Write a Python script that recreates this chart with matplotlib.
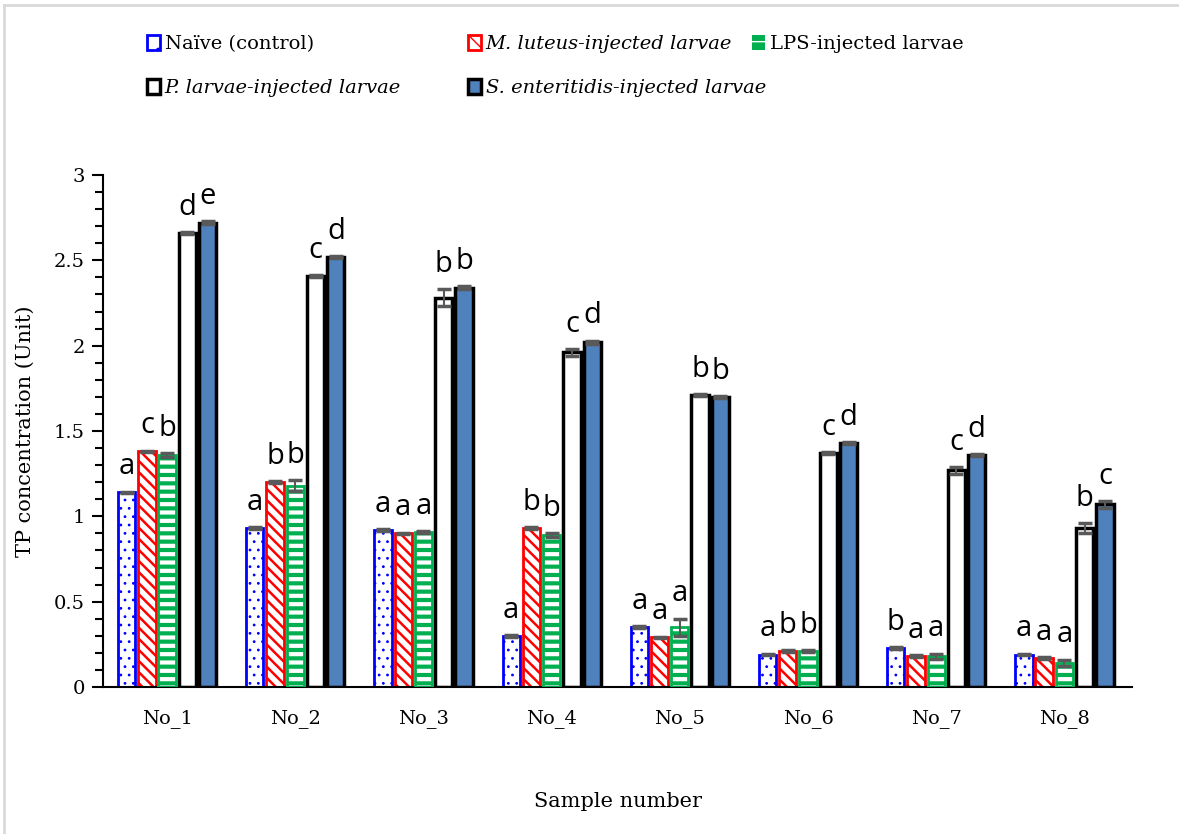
import numpy as np
import matplotlib
matplotlib.use("Agg")
import matplotlib.pyplot as plt
from matplotlib.lines import Line2D
from matplotlib.patches import Rectangle
from matplotlib.ticker import MultipleLocator

samples = ["No_1", "No_2", "No_3", "No_4", "No_5", "No_6", "No_7", "No_8"]
legend_text = [
    "Naïve (control)",
    "M. luteus-injected larvae",
    "LPS-injected larvae",
    "P. larvae-injected larvae",
    "S. enteritidis-injected larvae",
]

naive = [1.14, 0.93, 0.92, 0.30, 0.35, 0.19, 0.23, 0.19]
luteus = [1.38, 1.20, 0.90, 0.93, 0.29, 0.21, 0.18, 0.17]
lps = [1.36, 1.18, 0.91, 0.89, 0.35, 0.21, 0.18, 0.14]
plarvae = [2.66, 2.41, 2.28, 1.96, 1.71, 1.37, 1.27, 0.93]
senter = [2.72, 2.52, 2.34, 2.02, 1.70, 1.43, 1.36, 1.07]

naive_err = [0.005, 0.005, 0.005, 0.005, 0.005, 0.005, 0.005, 0.005]
luteus_err = [0.005, 0.005, 0.005, 0.005, 0.005, 0.005, 0.005, 0.005]
lps_err = [0.01, 0.03, 0.005, 0.01, 0.05, 0.005, 0.015, 0.02]
plarvae_err = [0.005, 0.005, 0.05, 0.02, 0.005, 0.005, 0.02, 0.03]
senter_err = [0.01, 0.005, 0.01, 0.01, 0.005, 0.005, 0.005, 0.02]

naive_sig = ["a", "a", "a", "a", "a", "a", "b", "a"]
luteus_sig = ["c", "b", "a", "b", "a", "b", "a", "a"]
lps_sig = ["b", "b", "a", "b", "a", "b", "a", "a"]
plarvae_sig = ["d", "c", "b", "c", "b", "c", "c", "b"]
senter_sig = ["e", "d", "b", "d", "b", "d", "d", "c"]

SERIF = "DejaVu Serif"


def set_hatch_lw(bars, lw):
    for p in bars:
        if hasattr(p, "set_hatch_linewidth"):
            p.set_hatch_linewidth(lw)


fig = plt.figure(figsize=(11.79, 8.34), dpi=100)
ax = fig.add_axes([0.0874, 0.1763, 0.873, 0.6139])

x = np.arange(len(samples))
width = 0.135
step = 0.158
offsets = (np.arange(5) - 2) * step

values = [naive, luteus, lps, plarvae, senter]
errors = [naive_err, luteus_err, lps_err, plarvae_err, senter_err]
sigs = [naive_sig, luteus_sig, lps_sig, plarvae_sig, senter_sig]

# Naive: white with small blue dots
b0 = ax.bar(x + offsets[0], naive, width, facecolor="white", edgecolor="#0000FF",
            hatch="..", linewidth=2, zorder=2)
set_hatch_lw(b0, 0.8)
# M. luteus: red diagonal hatch
b1 = ax.bar(x + offsets[1], luteus, width, facecolor="white", edgecolor="#FF0000",
            hatch="\\\\\\", linewidth=2, zorder=2)
set_hatch_lw(b1, 1.8)
# LPS: green with white stripes, outline drawn separately
b2 = ax.bar(x + offsets[2], lps, width, facecolor="#00B050", edgecolor="white",
            hatch="--", linewidth=0, zorder=2)
set_hatch_lw(b2, 3.0)
ax.bar(x + offsets[2], lps, width, fill=False, edgecolor="#00B050",
       linewidth=2, zorder=3)
# P. larvae: white with black edge
b3 = ax.bar(x + offsets[3], plarvae, width, facecolor="white", edgecolor="black",
            linewidth=2.5, zorder=2)
# S. enteritidis: solid blue
b4 = ax.bar(x + offsets[4], senter, width, facecolor="#4F81BD", edgecolor="black",
            linewidth=2.5, zorder=2)

for i in range(5):
    ax.errorbar(x + offsets[i], values[i], yerr=errors[i], fmt="none",
                ecolor="#595959", elinewidth=1.5, capsize=5, capthick=2.5, zorder=4)
    for xi, v, e, s in zip(x + offsets[i], values[i], errors[i], sigs[i]):
        ax.text(xi, v + e + 0.06, s, ha="center", va="bottom", fontsize=21,
                family="Open Sans", zorder=5)

ax.set_xlim(-0.5, 7.53)
ax.set_ylim(0, 3)
ax.set_xticks(x)
ax.set_xticklabels(samples, fontsize=14, family=SERIF)
ax.tick_params(axis="x", length=0, pad=16)
ax.yaxis.set_major_locator(MultipleLocator(0.5))
ax.yaxis.set_minor_locator(MultipleLocator(0.1))
ax.set_yticks([0, 0.5, 1, 1.5, 2, 2.5, 3])
ax.set_yticklabels(["0", "0.5", "1", "1.5", "2", "2.5", "3"], fontsize=14,
                   family=SERIF)
ax.tick_params(axis="y", which="major", length=8, width=1.5, direction="out", pad=5)
ax.tick_params(axis="y", which="minor", length=6, width=1.5, direction="out")
for side in ["top", "right"]:
    ax.spines[side].set_visible(False)
ax.spines["left"].set_linewidth(1.5)
ax.spines["bottom"].set_linewidth(1.5)

ax.set_ylabel("TP concentration (Unit)", fontsize=15, family=SERIF, labelpad=14)
ax.set_xlabel("Sample number", fontsize=15, family=SERIF, labelpad=46)

# legend swatches, one small legend per entry
lh = [
    Rectangle((0, 0), 1, 1, facecolor="white", edgecolor="#0000FF", hatch=".", linewidth=2),
    Rectangle((0, 0), 1, 1, facecolor="white", edgecolor="#FF0000", hatch="\\\\", linewidth=2),
    Rectangle((0, 0), 1, 1, facecolor="#00B050", edgecolor="white", hatch="-", linewidth=0),
    Rectangle((0, 0), 1, 1, facecolor="white", edgecolor="black", linewidth=2.5),
    Rectangle((0, 0), 1, 1, facecolor="#4F81BD", edgecolor="black", linewidth=2.5),
]
leg_x = [0.1247, 0.397, 0.638, 0.1247, 0.397]
leg_y = [0.947, 0.947, 0.947, 0.8945, 0.8945]
for i in range(5):
    style = "normal" if i in (0, 2) else "italic"
    leg = fig.legend([lh[i]], [legend_text[i]], loc="center left",
                     bbox_to_anchor=(leg_x[i], leg_y[i]), frameon=False,
                     borderpad=0, borderaxespad=0, handlelength=0.65,
                     handleheight=0.8, handletextpad=0.25,
                     prop={"family": SERIF, "size": 14, "style": style})

# light chart-area border on the left and top
fig.add_artist(Line2D([0.0035, 0.0035], [0, 0.994], color="#D9D9D9", lw=2))
fig.add_artist(Line2D([0.0035, 1], [0.994, 0.994], color="#D9D9D9", lw=2))

fig.savefig("out.png", dpi=100)
